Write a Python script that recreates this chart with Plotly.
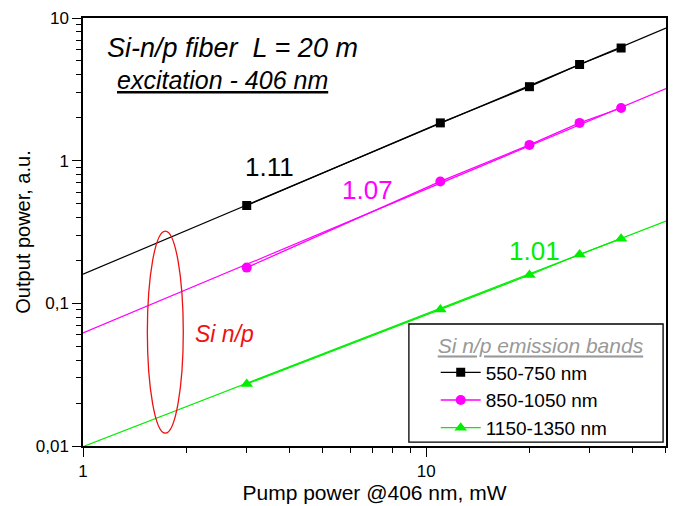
import plotly.graph_objects as go

pump = [3, 11, 20, 28, 37]
p_550 = [0.485, 1.84, 3.30, 4.72, 6.16]
p_850 = [0.178, 0.715, 1.29, 1.84, 2.34]
p_1150 = [0.0272, 0.0904, 0.158, 0.22, 0.284]

fit_x = [1, 50]
fit_550 = [0.16, 8.5]
fit_850 = [0.062, 3.2]
fit_1150 = [0.0099, 0.377]

names = ["550-750 nm", "850-1050 nm", "1150-1350 nm"]
colors = ["#000000", "#ff00ff", "#00ee00"]
symbols = ["square", "circle", "triangle-up"]
msizes = [9, 10, 11]
slopes = ["1.11", "1.07", "1.01"]

xtickvals = [1, 10]
xticktext = ["1", "10"]
ytickvals = [0.01, 0.1, 1, 10]
yticktext = ["0,01", "0,1", "1", "10"]

FONT = "Liberation Sans, Arial, sans-serif"

fig = go.Figure()
for fy, c in zip([fit_550, fit_850, fit_1150], colors):
    fig.add_trace(go.Scatter(x=fit_x, y=fy, mode="lines", line=dict(color=c, width=1.2),
                             showlegend=False, hoverinfo="skip"))
for ys, n, c, s, ms in zip([p_550, p_850, p_1150], names, colors, symbols, msizes):
    fig.add_trace(go.Scatter(x=pump, y=ys, mode="lines+markers", name=n,
                             line=dict(color=c, width=1.3),
                             marker=dict(color=c, symbol=s, size=ms)))

annos = [
    dict(x=0.038, y=0.930, text="<i>Si-n/p fiber&nbsp; L = 20 m</i>", size=27, color="black"),
    dict(x=0.055, y=0.855, text="<i><u>excitation - 406 nm</u></i>", size=25, color="black"),
    dict(x=0.274, y=0.653, text=slopes[0], size=26, color=colors[0]),
    dict(x=0.441, y=0.597, text=slopes[1], size=26, color=colors[1]),
    dict(x=0.727, y=0.456, text=slopes[2], size=26, color=colors[2]),
    dict(x=0.188, y=0.262, text="<i>Si n/p</i>", size=23, color="#ee1111"),
]
for a in annos:
    fig.add_annotation(xref="paper", yref="paper", x=a["x"], y=a["y"], text=a["text"],
                       showarrow=False, xanchor="left", yanchor="middle",
                       font=dict(family=FONT, size=a["size"], color=a["color"]))

fig.add_shape(type="circle", xref="x", yref="y", x0=1.54, x1=1.96, y0=0.0123, y1=0.321,
              line=dict(color="#ee1111", width=1.3))
# legend frame
fig.add_shape(type="rect", xref="paper", yref="paper", x0=0.559, x1=0.995, y0=0.009, y1=0.285,
              line=dict(color="black", width=1.3), fillcolor="white", layer="above")

fig.update_layout(
    width=674, height=506,
    margin=dict(l=83, r=6, t=18, b=56),
    paper_bgcolor="white", plot_bgcolor="white",
    font=dict(family=FONT, color="black"),
    legend=dict(x=0.605, y=0.28, xanchor="left", yanchor="top",
                borderwidth=0, bgcolor="rgba(0,0,0,0)",
                font=dict(size=19, family=FONT),
                title=dict(text="<i><u>Si n/p emission bands</u></i>",
                           font=dict(size=21, color="#999999", family=FONT)),
                tracegroupgap=0, itemwidth=40),
    showlegend=True,
)
fig.update_xaxes(type="log", range=[0, 1.699], tickvals=xtickvals, ticktext=xticktext,
                 ticks="outside", ticklen=9, tickwidth=1.2, tickcolor="black",
                 showline=True, linecolor="black", linewidth=1.5, mirror=True,
                 showgrid=False, zeroline=False, tickfont=dict(size=17),
                 minor=dict(ticks="outside", ticklen=5, tickcolor="black", showgrid=False, dtick="D1"),
                 title=dict(text="Pump power @406 nm, mW", font=dict(size=21), standoff=4))
fig.update_yaxes(type="log", range=[-2, 1], tickvals=ytickvals, ticktext=yticktext,
                 ticks="outside", ticklen=9, tickwidth=1.2, tickcolor="black",
                 showline=True, linecolor="black", linewidth=1.5, mirror=True,
                 showgrid=False, zeroline=False, tickfont=dict(size=17),
                 minor=dict(ticks="outside", ticklen=5, tickcolor="black", showgrid=False, dtick="D1"),
                 title=dict(text="Output power, a.u.", font=dict(size=20), standoff=0))

fig.write_html("out.html")
